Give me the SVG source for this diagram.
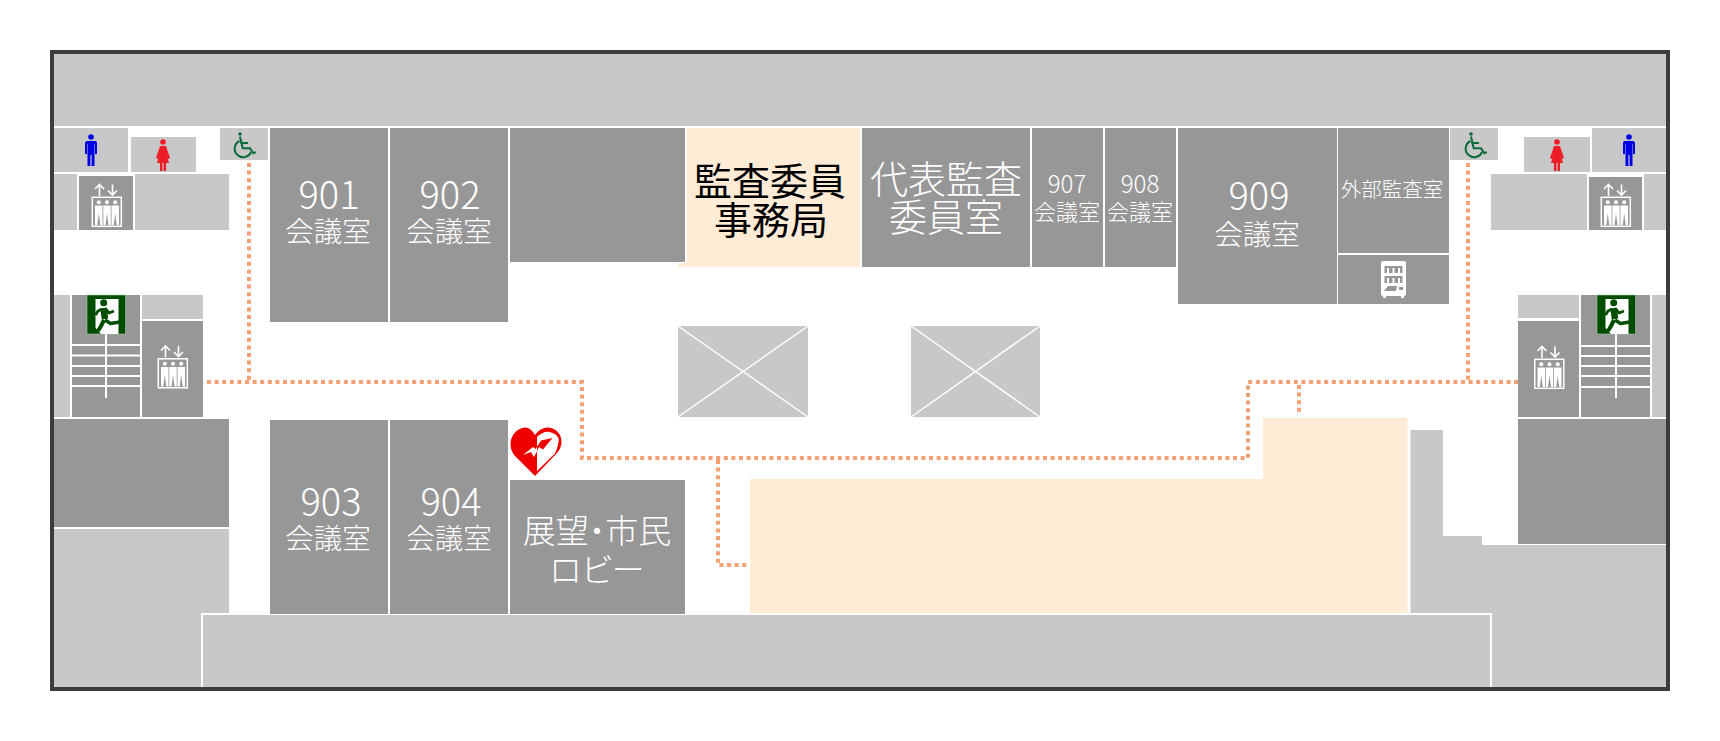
<svg xmlns="http://www.w3.org/2000/svg" width="1720" height="741" viewBox="0 0 1720 741">
<style>
.l{fill:#c8c8c8}.d{fill:#979797}.p{fill:#ffebd6}
.w{stroke:#fff;fill:none}
text{font-family:"Noto Sans CJK JP","Noto Sans",sans-serif;font-weight:300;fill:#fff;text-anchor:middle}
.k{fill:#000;font-weight:400}
.n{font-size:38px}.m{font-size:28.500px}.s{font-size:22px}.t{font-size:24px}
.route{fill:none;stroke:#f5a072;stroke-width:4;stroke-dasharray:4 3.6}
</style>
<defs>
<clipPath id="aedL"><rect x="505" y="420" width="32" height="60"/></clipPath>
<clipPath id="aedR"><rect x="537" y="420" width="30" height="60"/></clipPath>
<g id="ev">
<rect x="0.800" y="0.800" width="29" height="29" fill="none" stroke="#fff" stroke-width="1.500"/>
<path d="M8 -0.500V-12M3.500 -7.500L8 -12L12.500 -7.500M21 -12V-1.500M16.500 -6L21 -1.500L25.500 -6" fill="none" stroke="#fff" stroke-width="1.600"/>
<g fill="#fff"><circle cx="7.300" cy="5.800" r="2"/><circle cx="15.500" cy="5.800" r="2"/><circle cx="23.700" cy="5.800" r="2"/>
<path d="M3.500 9H11V28.500H8.800L7.300 17L5.800 28.500H3.500Z"/><path d="M11.800 9H19.200V28.500H17L15.500 17L14 28.500H11.800Z"/><path d="M20 9H27.500V28.500H25.200L23.700 17L22.200 28.500H20Z"/></g>
</g>
<g id="man" fill="#0000e6"><circle cx="0" cy="3" r="2.800"/><path d="M-4 7H4Q6 7 6 9V20H4V10H3.500V32H0.600V21H-0.600V32H-3.500V10H-4V20H-6V9Q-6 7 -4 7Z"/></g>
<g id="woman" fill="#ee1c25"><circle cx="0" cy="3" r="2.800"/><path d="M-3 7H3L7 19L5 20L3 14L6 24H3V32H0.600V24H-0.600V32H-3V24H-6L-3 14L-5 20L-7 19Z"/></g>
<g id="wc" fill="none" stroke="#0b6b3a" stroke-width="2"><circle cx="6" cy="1.500" r="1.800" fill="#0b6b3a" stroke="none"/><path d="M6 4L8.700 15.800H16L19.300 20.800L21.700 19.500"/><path d="M6.500 10.500H14"/><path d="M5.500 8.500A8.500 8.500 0 1 0 17 19.500"/></g>
<g id="exit"><rect width="38.500" height="39" fill="#004d00" stroke="#a8c8a8" stroke-width="0.600"/><path d="M8.500 4H31.500V39H14L8.500 33Z" fill="#fff"/>
<circle cx="16.700" cy="7.700" r="3.500" fill="#004d00"/>
<g fill="none" stroke="#004d00" stroke-linejoin="round"><path d="M16.500 13L18 24" stroke-width="6.500"/><path d="M15 14L11 16L8.500 20" stroke-width="2.800"/><path d="M19 14L22 18L27 16" stroke-width="2.800"/><path d="M18 25L23.500 28.500L33 27" stroke-width="3.500"/><path d="M17 25L14 31L11 36" stroke-width="4"/></g></g>
</defs>
<rect width="1720" height="741" fill="#fff"/>
<g id="background-shapes">
<rect class="l" x="54" y="54" width="1612" height="72"/>
<rect class="l" x="54" y="128" width="74" height="44"/><rect class="l" x="131" y="137" width="65" height="35"/><rect class="l" x="220" y="128" width="48" height="32"/>
<rect class="l" x="54" y="174" width="23" height="56"/><rect class="d" x="79" y="176" width="54" height="54"/><rect class="l" x="135" y="174" width="94" height="56"/>
<rect class="l" x="54" y="295" width="16" height="122"/><rect class="d" x="72" y="295" width="68" height="122"/><rect class="l" x="142" y="295" width="61" height="24"/><rect class="d" x="142" y="321" width="61" height="96"/>
<rect class="d" x="54" y="419" width="175" height="108"/>
<path class="l" d="M54 529H229V613H201V689H54Z"/>
<rect class="l" x="203" y="615" width="1287" height="74"/>
<path class="l" d="M1410.500 430H1443V536H1482V545H1666V689H1492V613H1410.500Z"/>
<rect class="l" x="1450" y="128" width="48" height="32"/><rect class="l" x="1524" y="137" width="66" height="35"/><rect class="l" x="1592" y="128" width="74" height="44"/>
<rect class="l" x="1491" y="174" width="96" height="56"/><rect class="d" x="1589" y="177" width="53" height="53"/><rect class="l" x="1644" y="174" width="22" height="56"/>
<rect class="l" x="1518" y="295" width="61" height="23"/><rect class="d" x="1518" y="321" width="61" height="96"/><rect class="d" x="1581" y="295" width="69" height="122"/><rect class="l" x="1652" y="295" width="14" height="122"/>
<rect class="d" x="1518" y="419" width="148" height="125"/>
<path class="w" stroke-width="2" d="M72 345H140M72 355.500H140M72 366H140M72 376H140M72 386H140M106 334V398"/>
<path class="w" stroke-width="2" d="M1581 346H1650M1581 356H1650M1581 366H1650M1581 376H1650M1581 387H1650M1616 334V398"/>
<g id="void-1"><rect class="l" x="678" y="326" width="130" height="91"/><path class="w" stroke-width="1.500" d="M678 417L808 326M678 326L808 417"/></g>
<g id="void-2"><rect class="l" x="911" y="326" width="129" height="91"/><path class="w" stroke-width="1.500" d="M911 417L1040 326M911 326L1040 417"/></g>
<path id="hall" class="p" d="M750 479H1263V418H1407.500V613H750Z"/>
</g>
<rect id="frame" x="52" y="52" width="1616" height="637" fill="none" stroke="#3c3c3c" stroke-width="4"/>
<g id="connectors">
<path class="route" d="M207 382H582V458H1248V382H1518"/>
<path class="route" d="M249 163V380"/>
<path class="route" d="M1468 163V380"/>
<path class="route" d="M1299 385V414"/>
<path class="route" d="M718 460V565H748"/>
</g>
<g id="room-901"><rect class="d" x="270" y="128" width="118" height="194"/><text x="329" y="209"><tspan class="n">901</tspan><tspan class="m" x="328" dy="33">会議室</tspan></text></g>
<g id="room-902"><rect class="d" x="390" y="128" width="118" height="194"/><text x="450" y="209"><tspan class="n">902</tspan><tspan class="m" x="449" dy="33">会議室</tspan></text></g>
<g id="room-blank"><rect class="d" x="510" y="128" width="175" height="134"/></g>
<g id="room-office"><path class="p" d="M687 128H860V267H678V263H687Z"/><text class="k" font-size="38" x="770" y="195">監査委員<tspan x="771" dy="39">事務局</tspan></text></g>
<g id="room-rep"><rect class="d" x="862" y="128" width="168" height="139"/><text font-size="38" x="946" y="193">代表監査<tspan x="946" dy="38">委員室</tspan></text></g>
<g id="room-907"><rect class="d" x="1032" y="128" width="71" height="139"/><text x="1067" y="193"><tspan class="t">907</tspan><tspan class="s" x="1067" dy="27">会議室</tspan></text></g>
<g id="room-908"><rect class="d" x="1105" y="128" width="71" height="139"/><text x="1140" y="193"><tspan class="t">908</tspan><tspan class="s" x="1140" dy="27">会議室</tspan></text></g>
<g id="room-909"><rect class="d" x="1178" y="128" width="159" height="176"/><text x="1259" y="210"><tspan class="n">909</tspan><tspan class="m" x="1257" dy="35">会議室</tspan></text></g>
<g id="room-outside"><rect class="d" x="1338" y="128" width="111" height="125"/><text x="1392" y="197" font-size="20.500">外部監査室</text></g>
<g id="room-vending"><rect class="d" x="1338" y="255" width="111" height="49"/>
<rect x="1381" y="261" width="25" height="35" rx="2" fill="#fff"/><path d="M1383 296h3v2h-3zM1401 296h3v2h-3z" fill="#fff"/><path d="M1384.500 266h18v7h-18zM1384.500 276h18v7h-18zM1384 291l4 -5h9l-1 5z" fill="#979797"/><path d="M1388 268v5M1393.500 268v5M1399 268v5M1388 278v5M1393.500 278v5M1399 278v5" stroke="#fff" stroke-width="2"/><rect x="1399" y="287" width="4" height="3" fill="#979797"/></g>
<g id="room-903"><rect class="d" x="270" y="420" width="118" height="194"/><text x="331" y="516"><tspan class="n">903</tspan><tspan class="m" x="328" dy="33">会議室</tspan></text></g>
<g id="room-904"><rect class="d" x="390" y="420" width="118" height="194"/><text x="451" y="516"><tspan class="n">904</tspan><tspan class="m" x="449" dy="33">会議室</tspan></text></g>
<g id="room-lobby"><rect class="d" x="510" y="480" width="175" height="134"/><text x="597" y="543" font-size="33" style="font-feature-settings:'palt'">展望・市民<tspan x="597" dy="39">ロビー</tspan></text></g>
<g id="aed"><path d="M535 476L515 456C507 447 510 432 522 428C528 426 532 430 535 435C539 429 546 426 551 428C562 431 565 444 557 453Z" fill="#ee0000"/><path d="M537 471V437C541 433 546 431 549 432C555 433 560 437 558.500 442C558 447 556 451 555 453.500Z" fill="#fff"/>
<path clip-path="url(#aedL)" d="M523 455L533 447L535.500 449L541 440.500L552.500 438L543 449.500L539 447L534 457L531 452Z" fill="#fff"/><path clip-path="url(#aedR)" d="M523 455L533 447L535.500 449L541 440.500L552.500 438L543 449.500L539 447L534 457L531 452Z" fill="#ee0000"/></g>
<g id="icons">
<use href="#man" x="91" y="134"/><use href="#woman" x="163" y="139"/><use href="#wc" x="234" y="132.500"/>
<use href="#man" x="1629" y="134"/><use href="#woman" x="1557" y="139"/><use href="#wc" x="1465" y="132.500"/>
<use href="#ev" x="91.500" y="196.500"/><use href="#ev" x="1600.500" y="196.500"/><use href="#ev" x="157.500" y="358"/><use href="#ev" x="1534" y="358.500"/>
<use href="#exit" x="87" y="295"/><use href="#exit" x="1597" y="295"/>
</g>
</svg>
